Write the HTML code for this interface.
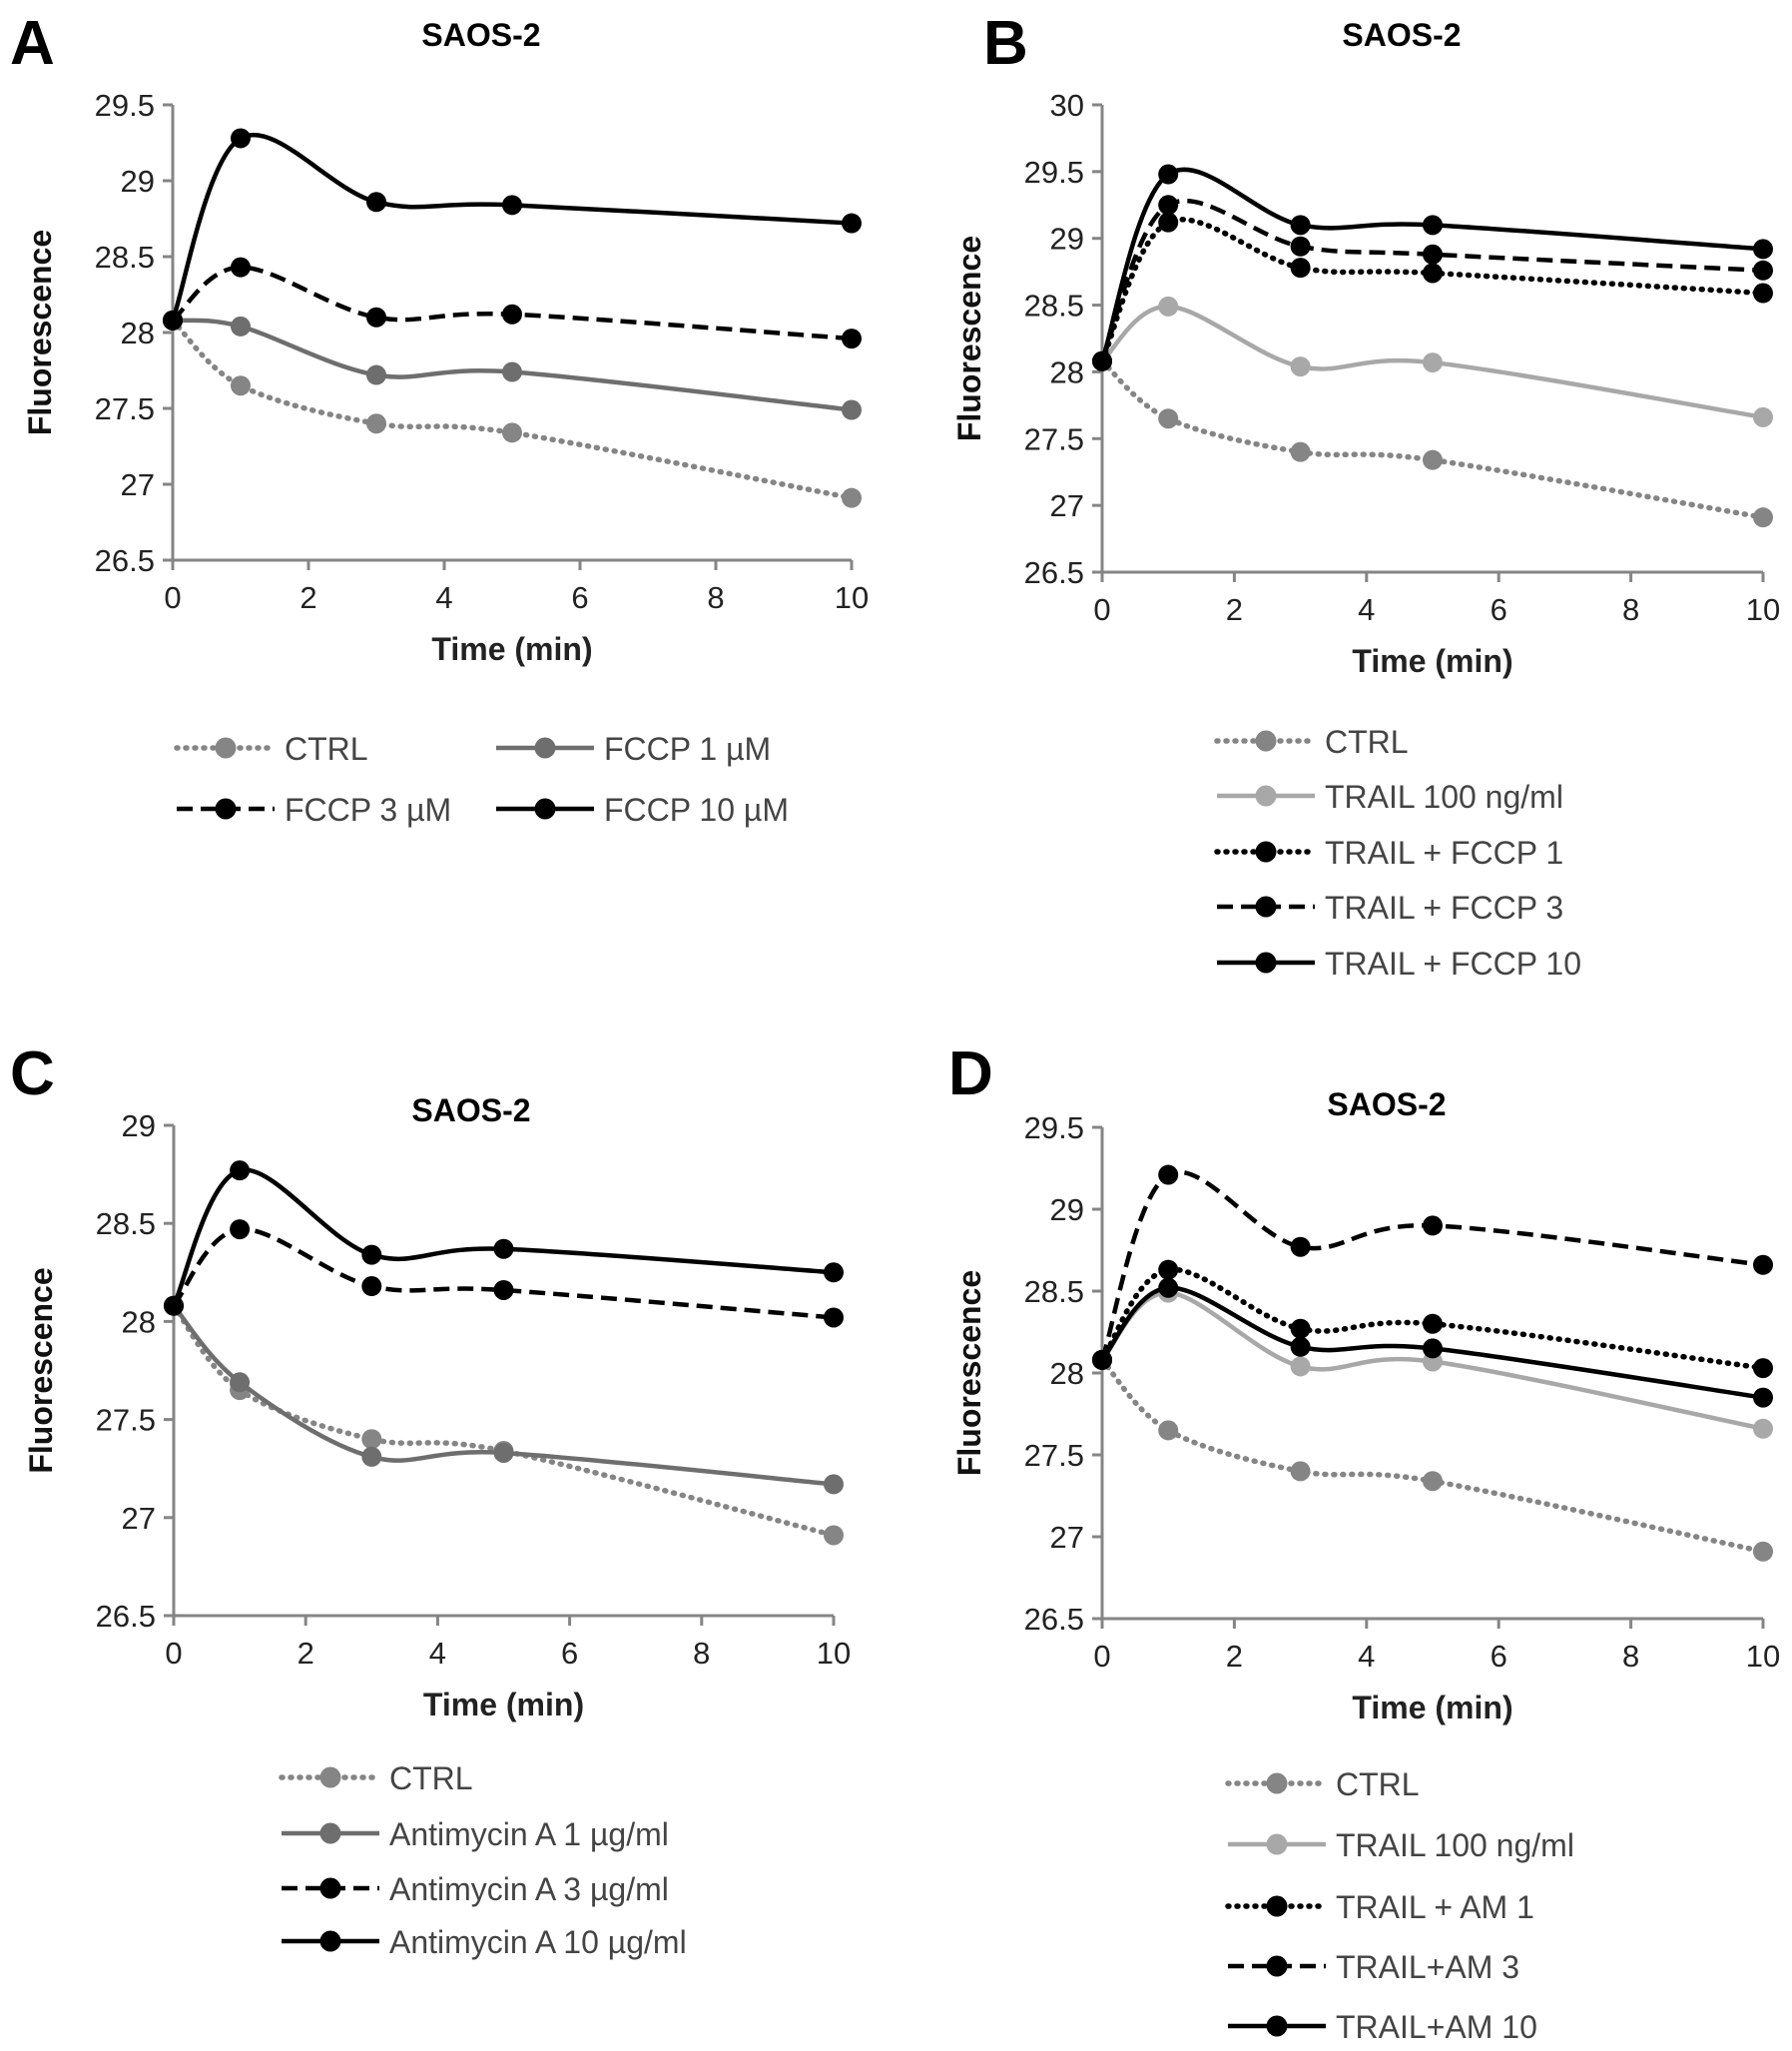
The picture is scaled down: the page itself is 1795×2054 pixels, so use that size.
<!DOCTYPE html>
<html><head><meta charset="utf-8">
<style>
html,body{margin:0;padding:0;background:#fff;}
svg{display:block;font-family:"Liberation Sans",Arial,sans-serif;}
</style></head>
<body>
<svg id="fig" width="1795" height="2054" viewBox="0 0 1795 2054" xmlns="http://www.w3.org/2000/svg"></svg>
<script>
const times = [0, 1, 3, 5, 10];
const xTicks = [0, 2, 4, 6, 8, 10];
const ctrlVals = [28.08, 27.65, 27.40, 27.34, 26.91];
const trailVals = [28.08, 28.49, 28.04, 28.07, 27.66];
const fccp1Vals = [28.08, 28.04, 27.72, 27.74, 27.49];
const fccp3Vals = [28.08, 28.43, 28.10, 28.12, 27.96];
const fccp10Vals = [28.08, 29.28, 28.86, 28.84, 28.72];
const tf1Vals = [28.08, 29.12, 28.78, 28.74, 28.59];
const tf3Vals = [28.08, 29.25, 28.94, 28.88, 28.76];
const tf10Vals = [28.08, 29.48, 29.10, 29.10, 28.92];
const am1Vals = [28.08, 27.69, 27.31, 27.33, 27.17];
const am3Vals = [28.08, 28.47, 28.18, 28.16, 28.02];
const am10Vals = [28.08, 28.77, 28.34, 28.37, 28.25];
const tam1Vals = [28.08, 28.63, 28.27, 28.30, 28.03];
const tam3Vals = [28.08, 29.21, 28.77, 28.90, 28.66];
const tam10Vals = [28.08, 28.52, 28.16, 28.15, 27.85];
const yTicksA = [26.5, 27, 27.5, 28, 28.5, 29, 29.5];
const yTicksB = [26.5, 27, 27.5, 28, 28.5, 29, 29.5, 30];
const yTicksC = [26.5, 27, 27.5, 28, 28.5, 29];
const legendA = ["CTRL", "FCCP 1 µM", "FCCP 3 µM", "FCCP 10 µM"];
const legendB = ["CTRL", "TRAIL 100 ng/ml", "TRAIL + FCCP 1", "TRAIL + FCCP 3", "TRAIL + FCCP 10"];
const legendC = ["CTRL", "Antimycin A 1 µg/ml", "Antimycin A 3 µg/ml", "Antimycin A 10 µg/ml"];
const legendD = ["CTRL", "TRAIL 100 ng/ml", "TRAIL + AM 1", "TRAIL+AM 3", "TRAIL+AM 10"];

const NS = "http://www.w3.org/2000/svg";
const svg = document.getElementById("fig");
function mk(tag, attrs, parent) {
  const e = document.createElementNS(NS, tag);
  for (const k in attrs) e.setAttribute(k, attrs[k]);
  (parent || svg).appendChild(e);
  return e;
}
const STY = {
  ctrl: {c: "#858585", dash: "1 8", cap: "round", w: 5.5},
  g1: {c: "#6e6e6e", dash: null, w: 4.5},
  light: {c: "#a8a8a8", dash: null, w: 4.5},
  dot: {c: "#000", dash: "1 8", cap: "round", w: 5.5},
  dash: {c: "#000", dash: "16 8", w: 4.5},
  solid: {c: "#000", dash: null, w: 4.5}
};

function smoothPath(pts) {
  let d = `M${pts[0][0]},${pts[0][1]}`;
  for (let i = 0; i < pts.length - 1; i++) {
    const p0 = pts[i - 1] || pts[i], p1 = pts[i], p2 = pts[i + 1], p3 = pts[i + 2] || p2;
    const t = 1 / 6;
    const c1 = [p1[0] + (p2[0] - p0[0]) * t, p1[1] + (p2[1] - p0[1]) * t];
    const c2 = [p2[0] - (p3[0] - p1[0]) * t, p2[1] - (p3[1] - p1[1]) * t];
    d += ` C${c1[0]},${c1[1]} ${c2[0]},${c2[1]} ${p2[0]},${p2[1]}`;
  }
  return d;
}

function panel(cfg) {
  const g = mk("g", {});
  
  
  const X = v => cfg.x0 + (v - 0) / 10 * (cfg.x1 - cfg.x0);
  const Y = v => cfg.yb - (v - cfg.ymin) / (cfg.ymax - cfg.ymin) * (cfg.yb - cfg.yt);
  const L = mk("text", {x: cfg.lx, y: cfg.ly, "font-size": 62, "font-weight": "bold"}, g);
  L.textContent = cfg.letter;
  
  
  const T = mk("text", {x: cfg.tx, y: cfg.ty, "font-size": 32, "font-weight": "bold", "text-anchor": "middle"}, g);
  T.textContent = "SAOS-2";
  
  
  const ax = mk("path", {d: `M${cfg.x0},${cfg.yt} H${cfg.x0 - 10} M${cfg.x0},${cfg.yt} V${cfg.yb} H${cfg.x1}`, stroke: "#858585", "stroke-width": 3, fill: "none"}, g);
  
  
  cfg.yticks.forEach(v => {
    mk("line", {x1: cfg.x0 - 10, x2: cfg.x0, y1: Y(v), y2: Y(v), stroke: "#858585", "stroke-width": 3}, g);
    const t = mk("text", {x: cfg.x0 - 18, y: Y(v) + 11, "font-size": 31, "text-anchor": "end", fill: "#222"}, g);
    t.textContent = String(v);
    
    
  });
  xTicks.forEach(v => {
    mk("line", {x1: X(v), x2: X(v), y1: cfg.yb, y2: cfg.yb + 10, stroke: "#858585", "stroke-width": 3}, g);
    const t = mk("text", {x: X(v), y: cfg.yb + 48, "font-size": 31, "text-anchor": "middle", fill: "#222"}, g);
    t.textContent = String(v);
    
    
  });
  const xt = mk("text", {x: (cfg.x0 + cfg.x1) / 2, y: cfg.yb + 100, "font-size": 32, "font-weight": "bold", "text-anchor": "middle", fill: "#222"}, g);
  xt.textContent = "Time (min)";
  
  
  const ym = (cfg.yt + cfg.yb) / 2;
  const yt = mk("text", {x: 0, y: 0, transform: `translate(${cfg.x0 - 122},${ym}) rotate(-90)`, "font-size": 32, "font-weight": "bold", "text-anchor": "middle", fill: "#111"}, g);
  yt.textContent = "Fluorescence";
  
  
  cfg.series.forEach((s, i) => {
    const st = STY[s.style];
    const pts = s.vals.map((v, j) => [X(times[j]), Y(v)]);
    const p = mk("path", {d: smoothPath(pts), stroke: st.c, "stroke-width": st.w, fill: "none"}, g);
    if (st.dash) p.setAttribute("stroke-dasharray", st.dash);
    if (st.cap) p.setAttribute("stroke-linecap", st.cap);
    
    
    pts.forEach(pt => {
      const c = mk("circle", {cx: pt[0], cy: pt[1], r: 10, fill: st.c}, g);
      
      
    });
    const lg = cfg.legPos[i];
    const le = mk("g", {}, g);
    
    
    const ll = mk("line", {x1: lg[0], x2: lg[0] + 98, y1: lg[1], y2: lg[1], stroke: st.c, "stroke-width": st.w}, le);
    if (st.dash) ll.setAttribute("stroke-dasharray", st.dash);
    if (st.cap) ll.setAttribute("stroke-linecap", st.cap);
    mk("circle", {cx: lg[0] + 49, cy: lg[1], r: 10.5, fill: st.c}, le);
    const lt = mk("text", {x: lg[0] + 108, y: lg[1] + 12, "font-size": 32, fill: "#444"}, le);
    lt.textContent = cfg.legend[i];
  });
}

panel({name: "panel-a", letter: "A", lx: 10, ly: 64, tx: 482, ty: 46,
  x0: 173, x1: 853, yt: 105, yb: 561, ymin: 26.5, ymax: 29.5, yticks: yTicksA,
  legend: legendA,
  legPos: [[177, 749], [497, 749], [177, 810], [497, 810]],
  series: [{vals: ctrlVals, style: "ctrl"}, {vals: fccp1Vals, style: "g1"}, {vals: fccp3Vals, style: "dash"}, {vals: fccp10Vals, style: "solid"}]});
panel({name: "panel-b", letter: "B", lx: 985, ly: 64, tx: 1404, ty: 46,
  x0: 1104, x1: 1766, yt: 105, yb: 573, ymin: 26.5, ymax: 30, yticks: yTicksB,
  legend: legendB,
  legPos: [[1219, 742], [1219, 797], [1219, 853], [1219, 908], [1219, 964]],
  series: [{vals: ctrlVals, style: "ctrl"}, {vals: trailVals, style: "light"}, {vals: tf1Vals, style: "dot"}, {vals: tf3Vals, style: "dash"}, {vals: tf10Vals, style: "solid"}]});
panel({name: "panel-c", letter: "C", lx: 10, ly: 1096, tx: 472, ty: 1123,
  x0: 174, x1: 835, yt: 1127, yb: 1618, ymin: 26.5, ymax: 29, yticks: yTicksC,
  legend: legendC,
  legPos: [[282, 1780], [282, 1836], [282, 1891], [282, 1944]],
  series: [{vals: ctrlVals, style: "ctrl"}, {vals: am1Vals, style: "g1"}, {vals: am3Vals, style: "dash"}, {vals: am10Vals, style: "solid"}]});
panel({name: "panel-d", letter: "D", lx: 950, ly: 1096, tx: 1389, ty: 1117,
  x0: 1104, x1: 1766, yt: 1129, yb: 1621, ymin: 26.5, ymax: 29.5, yticks: yTicksA,
  legend: legendD,
  legPos: [[1230, 1786], [1230, 1847], [1230, 1909], [1230, 1969], [1230, 2029]],
  series: [{vals: ctrlVals, style: "ctrl"}, {vals: trailVals, style: "light"}, {vals: tam1Vals, style: "dot"}, {vals: tam3Vals, style: "dash"}, {vals: tam10Vals, style: "solid"}]});
</script>
</body></html>
